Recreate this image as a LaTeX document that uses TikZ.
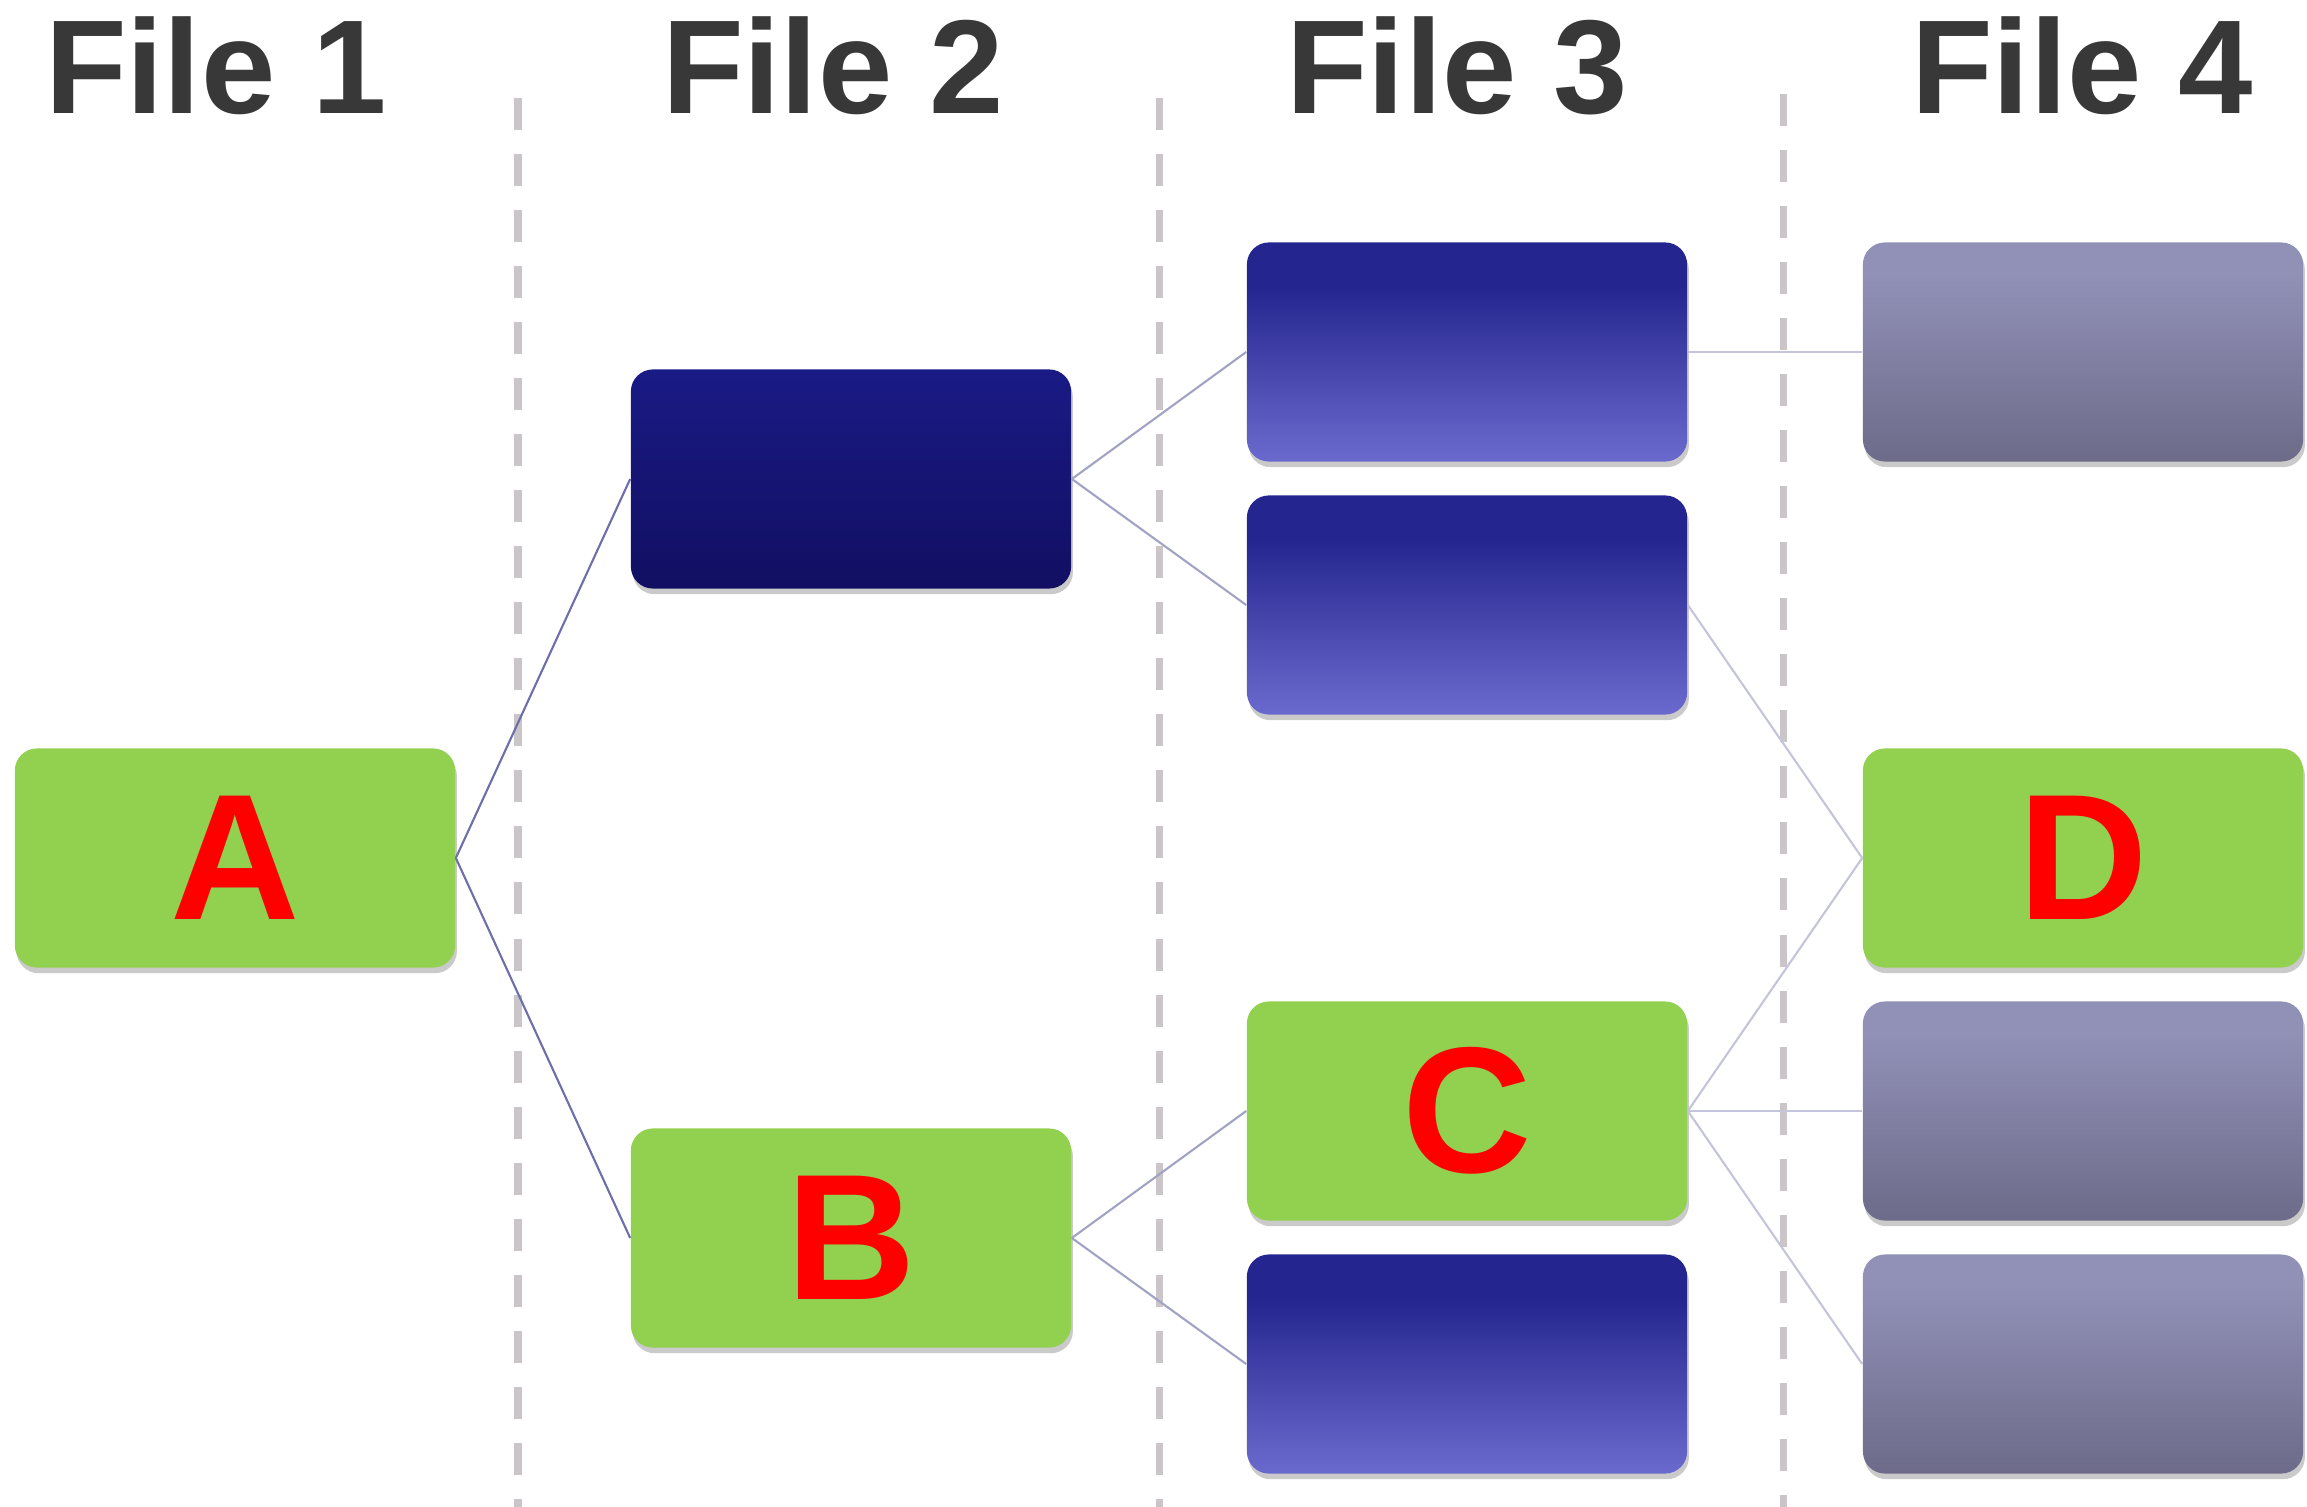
\documentclass[tikz,border=0pt]{standalone}
\usepackage{fontspec}
\setmainfont{Liberation Sans}
\usepackage{xcolor}
\usepackage{tikz}
\usetikzlibrary{positioning, shadows}

\definecolor{leafgreen}{HTML}{92D050}
\definecolor{titlegray}{HTML}{383838}
\definecolor{guidegray}{HTML}{C9C5C9}
\definecolor{navytop}{HTML}{1A1A85}
\definecolor{navybot}{HTML}{110F62}
\definecolor{bluetop}{HTML}{25258F}
\definecolor{bluebot}{HTML}{6A6ACE}
\definecolor{greytop}{HTML}{9191B8}
\definecolor{greybot}{HTML}{6D6B89}
\definecolor{linkdark}{HTML}{6E6EAA}
\definecolor{linkmid}{HTML}{A2A2C4}
\definecolor{linklight}{HTML}{C4C4DA}

\pgfdeclareverticalshading{bluefade}{100bp}{color(0bp)=(bluebot); color(25bp)=(bluebot); color(65bp)=(bluetop); color(100bp)=(bluetop)}
\pgfdeclareverticalshading{greyfade}{100bp}{color(0bp)=(greybot); color(25bp)=(greybot); color(68bp)=(greytop); color(100bp)=(greytop)}

\begin{document}
\begin{tikzpicture}[
    x=0.01cm, y=-0.01cm,
    card/.style={rectangle, rounded corners=0.22cm, minimum width=4.4cm, minimum height=2.19cm, inner sep=0pt,
        drop shadow={shadow xshift=0.5pt, shadow yshift=-1.6pt, opacity=0.35, fill=black!60}},
    keycard/.style={card, fill=leafgreen, text=red, font=\fontsize{51}{52}\selectfont\bfseries},
    navycard/.style={card, top color=navytop, bottom color=navybot},
    bluecard/.style={card, shading=bluefade},
    greycard/.style={card, shading=greyfade},
    filehead/.style={text=titlegray, font=\fontsize{38}{40}\selectfont\bfseries},
    guide/.style={guidegray, line width=2pt, dash pattern=on 0.32cm off 0.24cm},
    link/.style={line width=0.6pt}
]
\useasboundingbox (0,0) rectangle (2307,1507);

% column headings
\node[filehead] (head1) at (216, 66) {File 1};
\node[filehead] (head2) at (833, 66) {File 2};
\node[filehead] (head3) at (1457, 66) {File 3};
\node[filehead] (head4) at (2082, 66) {File 4};

% column separators
\coordinate (sepTop1) at (518, 98);  \coordinate (sepBot1) at (518, 1507);
\coordinate (sepTop2) at (1159, 98); \coordinate (sepBot2) at (1159, 1507);
\coordinate (sepTop3) at (1783, 94); \coordinate (sepBot3) at (1783, 1507);
\foreach \i in {1,2,3}
    \draw[guide] (sepTop\i) -- (sepBot\i);

% file 1
\node[keycard] (A) at (235, 858) {A};

% file 2
\node[navycard] (twoTop) at (851, 479) {};
\node[keycard] (B) at (851, 1238) {B};

% file 3
\node[bluecard] (threeA) at (1467, 352) {};
\node[bluecard] (threeB) at (1467, 605) {};
\node[keycard] (C) at (1467, 1111) {C};
\node[bluecard] (threeD) at (1467, 1364) {};

% file 4
\node[greycard] (fourA) at (2083, 352) {};
\node[keycard] (D) at (2083, 858) {D};
\node[greycard] (fourC) at (2083, 1111) {};
\node[greycard] (fourD) at (2083, 1364) {};

% links
\draw[link, linkdark] (A.east) -- (twoTop.west);
\draw[link, linkdark] (A.east) -- (B.west);
\draw[link, linkmid] (twoTop.east) -- (threeA.west);
\draw[link, linkmid] (twoTop.east) -- (threeB.west);
\draw[link, linkmid] (B.east) -- (C.west);
\draw[link, linkmid] (B.east) -- (threeD.west);
\draw[link, linklight] (threeA.east) -- (fourA.west);
\draw[link, linklight] (threeB.east) -- (D.west);
\draw[link, linklight] (C.east) -- (D.west);
\draw[link, linklight] (C.east) -- (fourC.west);
\draw[link, linklight] (C.east) -- (fourD.west);

\end{tikzpicture}
\end{document}
